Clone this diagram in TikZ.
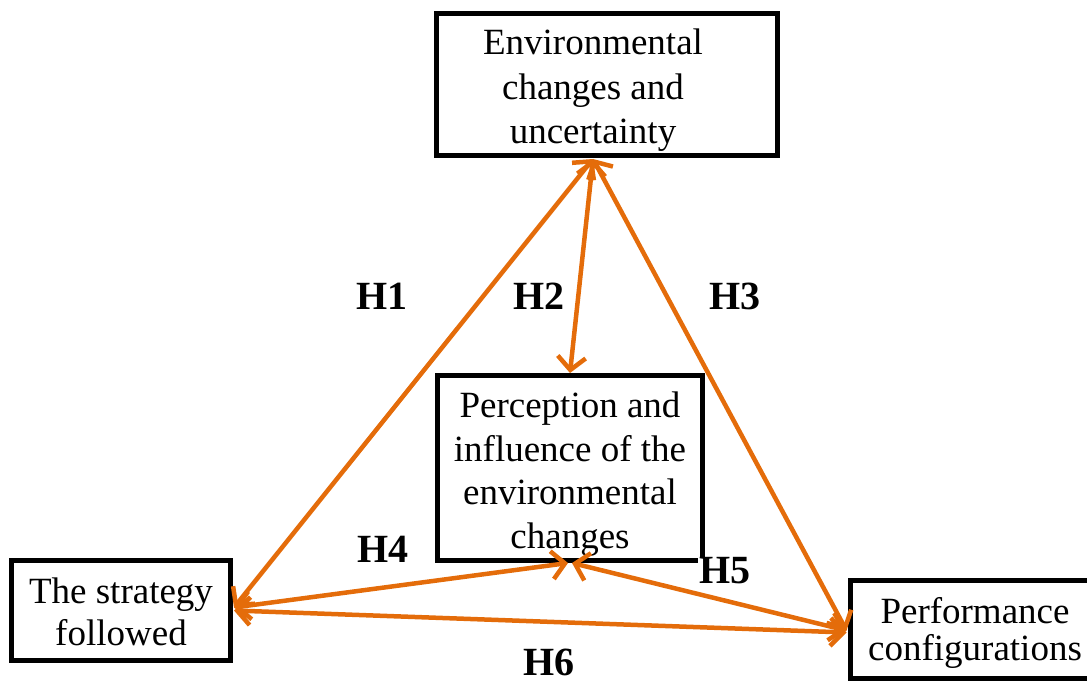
\documentclass[tikz,border=0pt]{standalone}
\usepackage{fontspec}
\setmainfont{Liberation Serif}
\usetikzlibrary{arrows.meta,calc}
\definecolor{arr}{RGB}{228,108,10}
\begin{document}
\begin{tikzpicture}[x=1pt,y=-1pt,
  box/.style={draw=black, line width=5pt, inner sep=0pt, fill=white},
  boxtext/.style={align=center, inner sep=0pt},
  link/.style={draw=arr, line width=4.5pt, line cap=round,
    {Straight Barb[length=13pt,width=28pt]}-{Straight Barb[length=13pt,width=28pt]}},
  hlabel/.style={font=\fontsize{40}{40}\selectfont\bfseries, inner sep=1pt}]
\useasboundingbox (0,0) rectangle (1087,682);
\clip (0,0) rectangle (1087,682);
% boxes
\node[box, minimum width=341pt, minimum height=142pt] (env) at (607,84.5) {};
\node[box, minimum width=265pt, minimum height=185pt] (perc) at (570,468) {};
\node[box, minimum width=219pt, minimum height=100pt] (strat) at (121,610.5) {};
\node[box, minimum width=250pt, minimum height=98pt] (perf) at (975,629.5) {};
% box texts
\node[boxtext, font=\fontsize{37}{44.5}\selectfont] (envT) at ($(env.center)+(-14,6)$)
  {Environmental\\changes and\\uncertainty};
\node[boxtext, font=\fontsize{37}{43.5}\selectfont] (percT) at ($(perc.center)+(0,6)$)
  {Perception and\\influence of the\\environmental\\changes};
\node[boxtext, font=\fontsize{37}{42}\selectfont] (stratT) at ($(strat.center)+(0,1)$)
  {The strategy\\followed};
\node[boxtext, font=\fontsize{37}{37}\selectfont] (perfT) at ($(perf.center)+(0,3)$)
  {Performance\\configurations};
% connection points
\coordinate (envS) at ($(env.south)+(-14,1)$);
\coordinate (stratA) at ($(strat.east)+(1,-3)$);
\coordinate (stratB) at ($(strat.east)+(1,0)$);
\coordinate (percS1) at ($(perc.south)+(-2,0)$);
\coordinate (percS2) at ($(perc.south)+(2,0)$);
\coordinate (perfA) at ($(perf.west)+(-1,1)$);
\coordinate (perfB) at ($(perf.west)+(-1,3)$);
% connectors
\draw[link] (envS) -- (stratA);
\draw[link] (envS) -- (perc.north);
\draw[link] (envS) -- (perfA);
\draw[link] (stratA) -- (percS1);
\draw[link] (percS2) -- (perfA);
\draw[link] (stratB) -- (perfB);
% labels
\node[hlabel] (h1) at (382,296) {H1};
\node[hlabel] (h2) at (539,296) {H2};
\node[hlabel] (h3) at (735,296) {H3};
\node[hlabel] (h4) at (383,549) {H4};
\node[hlabel, fill=white] (h5) at (725,571) {H5};
\node[hlabel] (h6) at (549,662) {H6};
\end{tikzpicture}
\end{document}
